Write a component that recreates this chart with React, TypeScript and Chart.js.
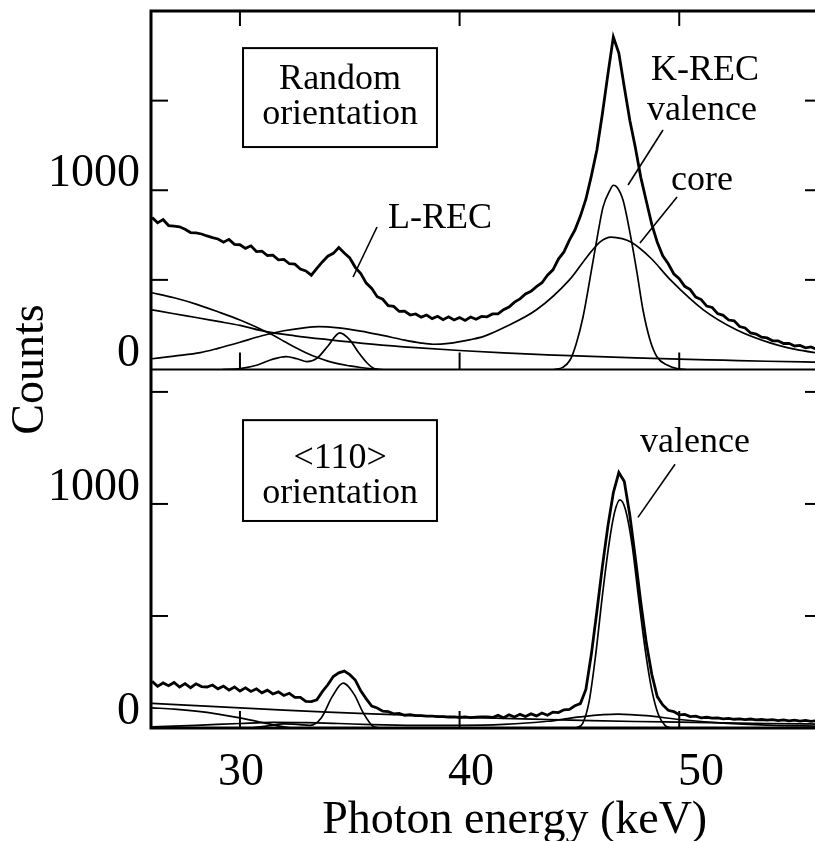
import React, { useEffect, useRef } from "react";
import { Chart, registerables } from "chart.js";

Chart.register(...registerables);

// ---------- data ----------
const ENERGY_KEV = [
  26, 26.25, 26.5, 26.75, 27, 27.25, 27.5, 27.75,
  28, 28.25, 28.5, 28.75, 29, 29.25, 29.5, 29.75,
  30, 30.25, 30.5, 30.75, 31, 31.25, 31.5, 31.75,
  32, 32.25, 32.5, 32.75, 33, 33.25, 33.5, 33.75,
  34, 34.25, 34.5, 34.75, 35, 35.25, 35.5, 35.75,
  36, 36.25, 36.5, 36.75, 37, 37.25, 37.5, 37.75,
  38, 38.25, 38.5, 38.75, 39, 39.25, 39.5, 39.75,
  40, 40.25, 40.5, 40.75, 41, 41.25, 41.5, 41.75,
  42, 42.25, 42.5, 42.75, 43, 43.25, 43.5, 43.75,
  44, 44.25, 44.5, 44.75, 45, 45.25, 45.5, 45.75,
  46, 46.25, 46.5, 46.75, 47, 47.25, 47.5, 47.75,
  48, 48.25, 48.5, 48.75, 49, 49.25, 49.5, 49.75,
  50, 50.25, 50.5, 50.75, 51, 51.25, 51.5, 51.75,
  52, 52.25, 52.5, 52.75, 53, 53.25, 53.5, 53.75,
  54, 54.25, 54.5, 54.75, 55, 55.25, 55.5, 55.75,
  56, 56.25, 56.5,
];

// measured spectrum, random orientation (top panel)
const RANDOM_COUNTS = [
  848, 818, 836, 803, 800, 796, 782, 764,
  762, 756, 745, 736, 728, 710, 726, 698,
  696, 676, 690, 658, 660, 636, 638, 612,
  614, 590, 588, 560, 550, 526, 564, 600,
  632, 648, 680, 650, 622, 570, 535, 482,
  452, 406, 392, 356, 352, 324, 326, 304,
  310, 292, 304, 284, 297, 278, 294, 276,
  290, 274, 293, 280, 296, 294, 310, 310,
  334, 348, 376, 394, 422, 436, 462, 484,
  526, 556, 616, 656, 722, 778, 856, 950,
  1080, 1225, 1425, 1645, 1855, 1765, 1575, 1390,
  1240, 1072, 940, 810, 710, 634, 590, 534,
  506, 464, 446, 404, 390, 354, 346, 312,
  302, 276, 272, 240, 232, 204, 198, 180,
  176, 160, 160, 145, 146, 131, 134, 121,
  126, 113, 118,
];

// measured spectrum, <110> orientation (bottom panel)
const ALIGNED_COUNTS = [
  208, 186, 201, 189, 203, 183, 198, 180,
  197, 185, 183, 192, 175, 187, 169, 183,
  165, 179, 163, 175, 157, 169, 152, 161,
  145, 155, 137, 137, 119, 118, 126, 162,
  193, 230, 246, 254, 238, 214, 166, 130,
  98, 89, 75, 73, 63, 65, 57, 59,
  55, 55, 53, 53, 51, 51, 49, 50,
  47, 49, 46, 48, 49, 50, 47, 57,
  46, 59, 49, 61, 51, 63, 54, 67,
  57, 71, 69, 81, 83, 99, 109, 172,
  330, 520, 720, 900, 1050, 1140, 1100, 950,
  760, 560, 380, 240, 140, 103, 79, 73,
  59, 61, 51, 53, 45, 48, 44, 45,
  41, 43, 39, 41, 37, 40, 36, 38,
  35, 37, 33, 36, 32, 35, 31, 34,
  30, 33, 29,
];

// fitted components [keV, counts]
const RANDOM_STEEP: [number, number][] = [
  [26, 428], [27, 400], [28, 365], [29, 322], [30, 276], [31, 222], [31.5, 192],
  [32, 158], [32.5, 124], [33, 94], [33.5, 68], [34, 47], [34.5, 31], [35, 20],
  [35.5, 11], [36, 4], [36.5, 0],
];
const RANDOM_BACKGROUND: [number, number][] = [
  [26, 333], [27, 311], [28, 290], [29, 268], [30, 246], [31.2, 211], [32.5, 188],
  [34, 167], [36, 142], [38, 122], [40, 106], [42, 93], [44, 82], [46, 73], [48, 65],
  [50, 58], [52, 52], [54, 46], [56.5, 40],
];
const RANDOM_CORE: [number, number][] = [
  [26, 60], [27, 75], [28.2, 94], [29, 118], [30, 152], [31, 188], [32, 216], [33, 234],
  [33.6, 239], [34.5, 232], [35.5, 214], [36.5, 190], [37.5, 164], [38.2, 149],
  [38.8, 141], [39.5, 146], [40.5, 167], [41.1, 185], [42, 233], [43.5, 333], [45, 500],
  [45.8, 628], [46.4, 712], [46.9, 739], [47.4, 730], [47.8, 711], [48.7, 622],
  [49.6, 500], [51.1, 333], [52.6, 222], [54.1, 150], [55.3, 112], [56.5, 88],
];
const RANDOM_L_VALENCE: [number, number][] = [
  [29.2, 0], [30, 5], [30.8, 25], [31.5, 58], [32.1, 72], [32.6, 60], [33.05, 44],
  [33.5, 62], [34, 130], [34.55, 204], [35, 165], [35.4, 95], [35.8, 35], [36.1, 5],
  [36.3, 0],
];
const RANDOM_K_VALENCE: [number, number][] = [
  [44.3, 0], [44.7, 12], [45.03, 53], [45.3, 140], [45.62, 293], [46.03, 572],
  [46.3, 761], [46.53, 906], [46.85, 1001], [47, 1028], [47.17, 1017], [47.44, 945],
  [47.76, 761], [48.08, 538], [48.35, 332], [48.67, 165], [48.99, 70], [49.45, 25],
  [49.9, 5], [50.3, 0],
];

const ALIGNED_STEEP: [number, number][] = [
  [26, 90], [27, 84], [28, 75], [29, 62], [30, 45], [31, 25], [31.8, 8], [32.3, 0],
];
const ALIGNED_BACKGROUND: [number, number][] = [
  [26, 110], [28, 100], [30, 90], [32, 80], [34, 71], [36, 63], [38, 56], [40, 49],
  [42, 43], [44, 38], [46, 33], [48, 29], [50, 26], [52, 23], [54, 20], [56.5, 17],
];
const ALIGNED_CORE: [number, number][] = [
  [26, 5], [28, 12], [30, 20], [31.5, 25], [33, 24], [34.5, 20], [36, 15], [38, 12],
  [40, 12], [42, 16], [44, 30], [45.5, 50], [47.2, 62], [48.5, 55], [50, 38], [52, 22],
  [54, 13], [56.5, 8],
];
const ALIGNED_L_VALENCE: [number, number][] = [
  [30.5, 0], [31.2, 8], [32, 18], [32.6, 16], [33.2, 12], [33.7, 45], [34.2, 140],
  [34.7, 200], [35.2, 150], [35.6, 70], [36.1, 5], [36.4, 0],
];
const ALIGNED_K_VALENCE: [number, number][] = [
  [45.3, 0], [45.6, 20], [45.9, 120], [46.2, 330], [46.5, 590], [46.8, 820],
  [47.05, 960], [47.3, 1018], [47.55, 975], [47.85, 820], [48.15, 580], [48.45, 350],
  [48.75, 170], [49.05, 60], [49.35, 12], [49.6, 0],
];

const X_TICKS = [30, 40, 50];
const X_TICK_LABELS = [30, 40, 50];
const TOP_Y_TICKS = [0, 500, 1000, 1500];
const BOTTOM_Y_TICKS = [0, 500, 1000, 1500];
const Y_LABELLED = [0, 1000];

// ---------- annotations (data coordinates) ----------
const TOP_BOX = { x0: 30.14, x1: 38.97, y0: 1241, y1: 1793 };
const TOP_BOX_TEXT = [
  { text: "Random", x: 34.56, y: 1565 },
  { text: "orientation", x: 34.56, y: 1370 },
];
const BOTTOM_BOX = { x0: 30.14, x1: 38.97, y0: 924, y1: 1374 };
const BOTTOM_BOX_TEXT = [
  { text: "<110>", x: 34.56, y: 1160 },
  { text: "orientation", x: 34.56, y: 1004 },
];
const TOP_TEXT = [
  { text: "K-REC", x: 51.17, y: 1615 },
  { text: "valence", x: 51.04, y: 1392 },
  { text: "core", x: 51.04, y: 1001 },
  { text: "L-REC", x: 39.11, y: 790 },
];
const TOP_LEADERS = [
  { x0: 36.24, y0: 795, x1: 35.15, y1: 516 },
  { x0: 49.26, y0: 1336, x1: 47.67, y1: 1029 },
  { x0: 49.9, y0: 962, x1: 48.21, y1: 706 },
];
const BOTTOM_TEXT = [{ text: "valence", x: 50.72, y: 1232 }];
const BOTTOM_LEADERS = [{ x0: 49.81, y0: 1177, x1: 48.12, y1: 940 }];
const X_TITLE = { text: "Photon energy (keV)", at: 41.9 };

const SERIF = '"Liberation Serif", "Times New Roman", serif';

const framePlugin = {
  id: "frameAndNotes",
  afterDraw(chart: any) {
    const { ctx, chartArea: a } = chart;
    const sx = chart.scales.x;
    const sl = chart.scales.xLabels;
    const yT = chart.scales.yTop;
    const yB = chart.scales.yBot;
    const seg = (x0: number, y0: number, x1: number, y1: number) => {
      ctx.beginPath();
      ctx.moveTo(x0, y0);
      ctx.lineTo(x1, y1);
      ctx.stroke();
    };
    ctx.save();
    ctx.strokeStyle = "#000";
    ctx.fillStyle = "#000";
    ctx.lineCap = "butt";

    // frame
    ctx.lineWidth = 3;
    ctx.strokeRect(a.left, a.top, a.right - a.left, a.bottom - a.top);
    ctx.lineWidth = 2;
    seg(a.left, yT.bottom, a.right, yT.bottom);

    // inward ticks
    ctx.lineWidth = 2;
    const TL = 17;
    for (const v of X_TICKS) {
      const px = sx.getPixelForValue(v);
      seg(px, a.top, px, a.top + TL - 2);
      seg(px, yT.bottom, px, yT.bottom - TL);
      seg(px, a.bottom, px, a.bottom - TL);
    }
    for (const v of TOP_Y_TICKS) {
      if (v === 0) continue;
      const py = yT.getPixelForValue(v);
      seg(a.left, py, a.left + TL, py);
      seg(a.right, py, a.right - TL, py);
    }
    for (const v of BOTTOM_Y_TICKS) {
      if (v === 0) continue;
      const py = yB.getPixelForValue(v);
      seg(a.left, py, a.left + TL, py);
      seg(a.right, py, a.right - TL, py);
    }

    // axis titles
    ctx.font = `46px ${SERIF}`;
    ctx.textAlign = "center";
    ctx.textBaseline = "alphabetic";
    ctx.fillText(X_TITLE.text, sl.getPixelForValue(X_TITLE.at), sl.bottom - 8);

    ctx.save();
    ctx.textBaseline = "middle";
    ctx.translate(31, yT.bottom);
    ctx.rotate(-Math.PI / 2);
    ctx.fillText("Counts", 0, 0);
    ctx.restore();

    // boxes
    ctx.lineWidth = 2;
    const box = (b: any, ys: any) => {
      const x0 = sx.getPixelForValue(b.x0);
      const x1 = sx.getPixelForValue(b.x1);
      const y0 = ys.getPixelForValue(b.y0);
      const y1 = ys.getPixelForValue(b.y1);
      ctx.strokeRect(x0, y1, x1 - x0, y0 - y1);
    };
    box(TOP_BOX, yT);
    box(BOTTOM_BOX, yB);

    ctx.font = `36px ${SERIF}`;
    ctx.textAlign = "center";
    ctx.textBaseline = "alphabetic";
    const texts = (list: any[], ys: any) => {
      for (const t of list) {
        ctx.fillText(t.text, sx.getPixelForValue(t.x), ys.getPixelForValue(t.y));
      }
    };
    texts(TOP_BOX_TEXT, yT);
    texts(BOTTOM_BOX_TEXT, yB);
    texts(TOP_TEXT, yT);
    texts(BOTTOM_TEXT, yB);

    ctx.lineWidth = 1.6;
    const leaders = (list: any[], ys: any) => {
      for (const l of list) {
        seg(
          sx.getPixelForValue(l.x0), ys.getPixelForValue(l.y0),
          sx.getPixelForValue(l.x1), ys.getPixelForValue(l.y1)
        );
      }
    };
    leaders(TOP_LEADERS, yT);
    leaders(BOTTOM_LEADERS, yB);
    ctx.restore();
  },
};

export default function App() {
  const ref = useRef<HTMLCanvasElement>(null);

  useEffect(() => {
    const canvas = ref.current;
    if (!canvas) return;
    const pairs = (p: [number, number][]) => p.map(([x, y]) => ({ x, y }));
    const measured = (counts: number[]) => ENERGY_KEV.map((e, i) => ({ x: e, y: counts[i] }));
    const fit = (data: any, axis: string) => ({
      data,
      xAxisID: "x",
      yAxisID: axis,
      borderColor: "#000",
      borderWidth: 1.7,
      pointRadius: 0,
      cubicInterpolationMode: "monotone" as const,
      fill: false,
    });
    const meas = (data: any, axis: string) => ({
      data,
      xAxisID: "x",
      yAxisID: axis,
      borderColor: "#000",
      borderWidth: 2.8,
      pointRadius: 0,
      tension: 0,
      fill: false,
    });
    const tickFont = { family: SERIF, size: 46 };
    const yAxis = (min: number, max: number, ticks: number[], weight: number) => ({
      type: "linear" as const,
      position: "left" as const,
      stack: "counts",
      stackWeight: 1,
      weight,
      min,
      max,
      grid: { display: false, drawTicks: false },
      border: { display: false },
      afterBuildTicks: (s: any) => {
        s.ticks = ticks.map((v) => ({ value: v }));
      },
      afterFit: (s: any) => {
        s.width = 151;
        s.paddingTop = 0;
        s.paddingBottom = 0;
      },
      ticks: {
        autoSkip: false,
        color: "#000",
        font: tickFont,
        padding: 11,
        labelOffset: -16,
        callback: (v: any) => (Y_LABELLED.includes(Number(v)) ? String(v) : ""),
      },
    });

    const chart = new Chart(canvas, {
      type: "line",
      data: {
        datasets: [
          fit(pairs(RANDOM_STEEP), "yTop"),
          fit(pairs(RANDOM_BACKGROUND), "yTop"),
          fit(pairs(RANDOM_CORE), "yTop"),
          fit(pairs(RANDOM_L_VALENCE), "yTop"),
          fit(pairs(RANDOM_K_VALENCE), "yTop"),
          meas(measured(RANDOM_COUNTS), "yTop"),
          fit(pairs(ALIGNED_STEEP), "yBot"),
          fit(pairs(ALIGNED_BACKGROUND), "yBot"),
          fit(pairs(ALIGNED_CORE), "yBot"),
          fit(pairs(ALIGNED_L_VALENCE), "yBot"),
          fit(pairs(ALIGNED_K_VALENCE), "yBot"),
          meas(measured(ALIGNED_COUNTS), "yBot"),
        ],
      },
      options: {
        responsive: false,
        animation: false,
        devicePixelRatio: 1,
        events: [],
        layout: { autoPadding: false, padding: { left: 0, right: 8, top: 11, bottom: 0 } },
        plugins: { legend: { display: false }, tooltip: { enabled: false } },
        scales: {
          x: {
            type: "linear",
            position: "bottom",
            display: false,
            min: 25.95,
            max: 56.5,
          },
          xLabels: {
            type: "linear",
            position: "bottom",
            min: 26.087,
            max: 55.261,
            grid: { display: false, drawTicks: false },
            border: { display: false },
            afterBuildTicks: (s: any) => {
              s.ticks = X_TICK_LABELS.map((v) => ({ value: v }));
            },
            afterFit: (s: any) => {
              s.height = 113;
              s.paddingLeft = 0;
              s.paddingRight = 0;
            },
            ticks: {
              autoSkip: false,
              maxRotation: 0,
              color: "#000",
              font: tickFont,
              padding: 17,
            },
          },
          yTop: yAxis(0, 2000, TOP_Y_TICKS, 1),
          yBot: yAxis(0, 1600, BOTTOM_Y_TICKS, 0),
        } as any,
      },
      plugins: [framePlugin],
    } as any);
    return () => chart.destroy();
  }, []);

  return (
    <div
      style={{
        position: "absolute",
        left: 0,
        top: 0,
        width: 815,
        height: 841,
        overflow: "hidden",
        background: "#fff",
      }}
    >
      <canvas ref={ref} width={830} height={841} style={{ display: "block" }} />
    </div>
  );
}
